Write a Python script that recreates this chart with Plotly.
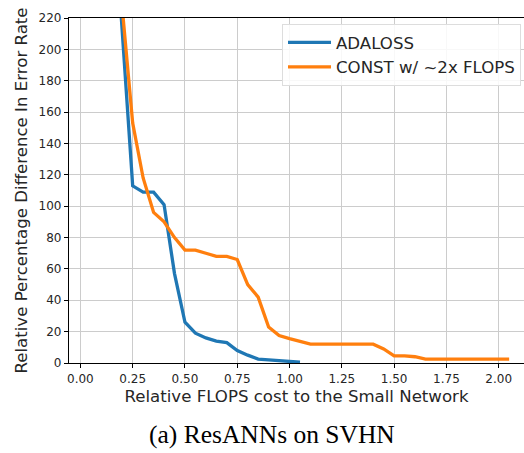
import plotly.graph_objects as go

# Data
ada_x = [0.15, 0.25, 0.30, 0.35, 0.40, 0.45, 0.50, 0.55, 0.60, 0.65, 0.70, 0.75, 0.80, 0.85, 0.90, 0.95, 1.00, 1.05]
ada_y = [310, 113, 109, 109, 101, 57, 26, 19, 16, 14, 13, 8, 5, 2.5, 2, 1.5, 1, 0.5]

const_x = [0.15, 0.25, 0.30, 0.35, 0.40, 0.45, 0.50, 0.55, 0.60, 0.65, 0.70, 0.75, 0.80, 0.85, 0.90, 0.95,
           1.00, 1.05, 1.10, 1.15, 1.20, 1.25, 1.30, 1.35, 1.40, 1.45, 1.50, 1.55, 1.60, 1.65, 1.70, 1.75,
           1.80, 1.85, 1.90, 1.95, 2.00, 2.05]
const_y = [300, 153, 118, 96, 90, 80, 72, 72, 70, 68, 68, 66, 50, 42, 23, 17.5,
           15.5, 14, 12, 12, 12, 12, 12, 12, 12, 9, 4.5, 4.5, 4, 2.5, 2.5, 2.5,
           2.5, 2.5, 2.5, 2.5, 2.5, 2.5]

x_ticks = [0.0, 0.25, 0.5, 0.75, 1.0, 1.25, 1.5, 1.75, 2.0]
x_tick_labels = ["0.00", "0.25", "0.50", "0.75", "1.00", "1.25", "1.50", "1.75", "2.00"]
y_ticks = list(range(0, 221, 20))

fig = go.Figure()
fig.add_trace(go.Scatter(x=ada_x, y=ada_y, mode="lines", name="ADALOSS",
                         line=dict(color="#1f77b4", width=3.3)))
fig.add_trace(go.Scatter(x=const_x, y=const_y, mode="lines", name="CONST w/ ~2x FLOPS",
                         line=dict(color="#ff7f0e", width=3.3)))

axis_font = dict(family="DejaVu Sans", size=12, color="#262626")
title_font = dict(family="DejaVu Sans", size=16.6, color="#262626")
fig.update_layout(
    width=524, height=453,
    margin=dict(l=69, r=0, t=18, b=90),
    paper_bgcolor="white", plot_bgcolor="white",
    font=dict(family="DejaVu Sans", color="#262626"),
    showlegend=True,
    legend=dict(x=(282 - 69) / 455, y=(363 - 24) / 345, xanchor="left", yanchor="top",
                bgcolor="rgba(255,255,255,0.85)", bordercolor="#dddddd", borderwidth=1,
                font=dict(family="DejaVu Sans", size=16.6, color="#262626"),
                itemwidth=43),
    xaxis=dict(range=[-0.0545, 2.121], tickmode="array", tickvals=x_ticks, ticktext=x_tick_labels,
               showgrid=True, gridcolor="#cccccc", gridwidth=1, zeroline=False,
               showline=True, linecolor="black", linewidth=1.2, mirror=True,
               ticks="outside", ticklen=4, tickcolor="black", tickfont=axis_font,
               title=dict(text="Relative FLOPS cost to the Small Network",
                          font=title_font, standoff=5)),
    yaxis=dict(range=[0, 220], tickmode="array", tickvals=y_ticks,
               showgrid=True, gridcolor="#cccccc", gridwidth=1, zeroline=False,
               showline=True, linecolor="black", linewidth=1.2, mirror=False,
               ticks="outside", ticklen=4, tickcolor="black", tickfont=axis_font,
               title=dict(text="Relative Percentage Difference In Error Rate",
                          font=title_font, standoff=6)),
)

fig.add_annotation(text="(a) ResANNs on SVHN", xref="paper", yref="paper",
                   x=(272 - 69) / 455, y=-(451 - 363) / 345, xanchor="center", yanchor="bottom",
                   showarrow=False,
                   font=dict(family="Liberation Serif", size=25.5, color="black"))

fig.write_html("out.html")
